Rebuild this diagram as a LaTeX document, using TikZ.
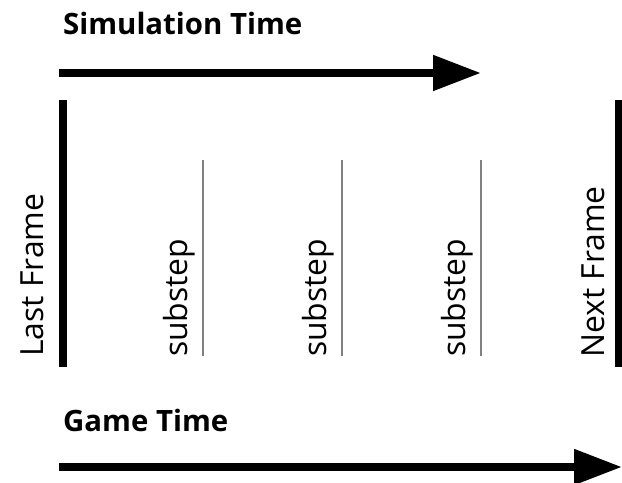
\documentclass[tikz,border=0pt]{standalone}
\usepackage{fontspec}
\setmainfont{Open Sans}
\usetikzlibrary{arrows.meta}
\begin{document}
\begin{tikzpicture}[x=1bp,y=1bp,
  title/.style={anchor=base west,inner sep=0pt,font=\fontsize{29.5}{34}\selectfont\bfseries},
  vlabel/.style={anchor=base west,rotate=90,inner sep=0pt,font=\fontsize{32}{36}\selectfont},
  bigarrow/.style={line width=8bp,-{Triangle[length=48bp,width=34bp]}},
  framebar/.style={line width=8bp},
  subline/.style={line width=1.5bp,draw=black!50}]
\useasboundingbox (0,0) rectangle (622,483);
% titles
\node[title] (simt) at (63,448) {Simulation Time};
\node[title] (gamet) at (63,51) {Game Time};
% arrows
\coordinate (sa0) at (59,410);
\coordinate (sa1) at (481,410);
\draw[bigarrow] (sa0) -- (sa1);
\coordinate (ga0) at (59,16);
\coordinate (ga1) at (622,16);
\draw[bigarrow] (ga0) -- (ga1);
% frame bars
\coordinate (lb0) at (63,383);
\coordinate (lb1) at (63,116);
\draw[framebar] (lb0) -- (lb1);
\coordinate (rb0) at (619,383);
\coordinate (rb1) at (619,116);
\draw[framebar] (rb0) -- (rb1);
% substep lines
\foreach \i/\x in {1/203,2/342,3/481}{
  \coordinate (st\i) at (\x,323);
  \coordinate (sb\i) at (\x,127);
  \draw[subline] (st\i) -- (sb\i);
  \node[vlabel] (sl\i) at (\x-16,126) {substep};
}
% frame labels
\node[vlabel] (lastf) at (43,126) {Last Frame};
\node[vlabel] (nextf) at (604,125) {Next Frame};
\end{tikzpicture}
\end{document}
